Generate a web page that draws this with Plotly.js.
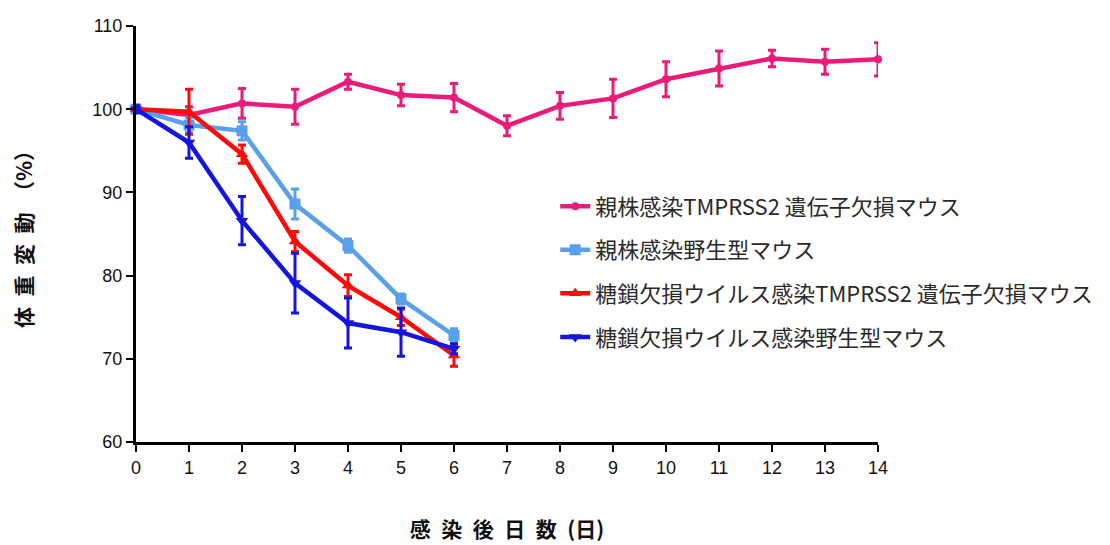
<!DOCTYPE html>
<html>
<head>
<meta charset="utf-8">
<script src="https://cdn.plot.ly/plotly-3.0.1.min.js"></script>
<style>html,body{margin:0;padding:0;background:#fff;}#chart{width:1110px;height:545px;}</style>
</head>
<body>
<div id="chart"></div>
<script>
const days = [0,1,2,3,4,5,6,7,8,9,10,11,12,13,14];
const daysShort = [0,1,2,3,4,5,6];
const seriesNames = [
  "親株感染TMPRSS2 遺伝子欠損マウス",
  "親株感染野生型マウス",
  "糖鎖欠損ウイルス感染TMPRSS2 遺伝子欠損マウス",
  "糖鎖欠損ウイルス感染野生型マウス"
];
const xTitle = "感\u2002染\u2002後\u2002日\u2002数\u2002(日)";
const yTitle = "体\u2002重\u2002変\u2002動\u2002（%）";
const parentKO = [100, 99.3, 100.7, 100.3, 103.3, 101.7, 101.4, 98.0, 100.4, 101.3, 103.6, 104.9, 106.1, 105.7, 106.0];
const parentKOErr = [0.5, 1.0, 1.8, 2.1, 0.9, 1.3, 1.7, 1.2, 1.6, 2.3, 2.1, 2.1, 1.0, 1.5, 2.0];
const parentWT = [100, 98.1, 97.4, 88.6, 83.6, 77.2, 72.8];
const parentWTErr = [0.5, 0.9, 1.1, 1.8, 0.8, 0.6, 0.8];
const glycoKO = [100, 99.7, 94.6, 84.1, 78.8, 75.0, 70.4];
const glycoKOErr = [0.4, 2.7, 1.1, 1.2, 1.3, 1.0, 1.3];
const glycoWT = [100, 96.0, 86.6, 79.1, 74.3, 73.2, 71.2];
const glycoWTErr = [0.4, 1.9, 2.9, 3.6, 3.0, 2.9, 0.6];
const colors = ["#EC1B7A", "#5A9FEA", "#FF0A0A", "#1515E0"];
const symbols = ["circle", "square", "triangle-up", "triangle-down"];
const yTicks = [60, 70, 80, 90, 100, 110];

const data = [
  {x: days, y: parentKO, err: parentKOErr},
  {x: daysShort, y: parentWT, err: parentWTErr},
  {x: daysShort, y: glycoKO, err: glycoKOErr},
  {x: daysShort, y: glycoWT, err: glycoWTErr}
].map((s, i) => ({
  type: "scatter",
  mode: "lines+markers",
  x: s.x,
  y: s.y,
  name: seriesNames[i],
  legendgroup: "g" + i,
  line: {color: colors[i], width: 4.5},
  marker: {color: colors[i], symbol: symbols[i], size: i === 0 ? 8 : 11},
  error_y: {type: "data", array: s.err, visible: true, color: colors[i], thickness: 3, width: 4},
  cliponaxis: false
}));

const layout = {
  width: 1110,
  height: 545,
  margin: {l: 136, r: 232, t: 26, b: 103, autoexpand: false},
  paper_bgcolor: "#fff",
  plot_bgcolor: "#fff",
  font: {family: "Liberation Sans, Arial, sans-serif", color: "#111"},
  showlegend: true,
  legend: {
    x: 0.565, y: 0.617, xanchor: "left", yanchor: "top",
    font: {family: "Noto Sans CJK JP, sans-serif", size: 22, color: "#2a2a2a"},
    tracegroupgap: 12,
    bgcolor: "rgba(0,0,0,0)"
  },
  xaxis: {
    range: [0, 14],
    tickvals: days,
    ticks: "outside", ticklen: 7, tickwidth: 2, tickcolor: "#000",
    showline: true, linewidth: 3, linecolor: "#000",
    showgrid: false, zeroline: false,
    tickfont: {size: 18},
    title: {text: xTitle, font: {family: "Noto Sans CJK JP, sans-serif", size: 21, weight: "bold", color: "#111"}, standoff: 46}
  },
  yaxis: {
    range: [60, 110],
    tickvals: yTicks,
    ticks: "outside", ticklen: 7, tickwidth: 2, tickcolor: "#000",
    showline: true, linewidth: 3, linecolor: "#000",
    showgrid: false, zeroline: false,
    tickfont: {size: 18},
    title: {text: yTitle, font: {family: "Noto Sans CJK JP, sans-serif", size: 21, weight: "bold", color: "#111"}, standoff: 55}
  }
};

Plotly.newPlot("chart", data, layout, {displayModeBar: false, staticPlot: true});
</script>
</body>
</html>
